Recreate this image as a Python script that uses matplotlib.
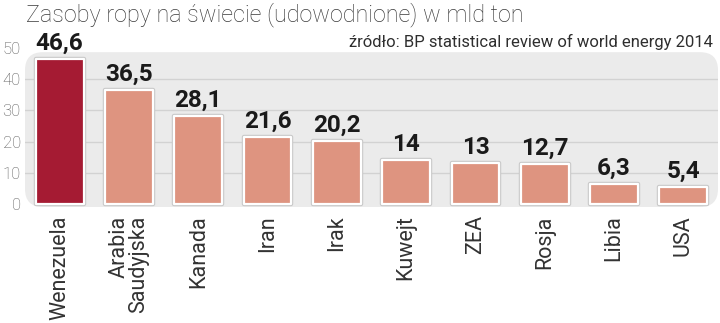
import matplotlib
matplotlib.use('Agg')
import matplotlib.pyplot as plt
from matplotlib.patches import FancyBboxPatch
import matplotlib.patheffects as pe

countries = ['Wenezuela', 'Arabia\nSaudyjska', 'Kanada', 'Iran', 'Irak',
             'Kuwejt', 'ZEA', 'Rosja', 'Libia', 'USA']
reserves = [46.6, 36.5, 28.1, 21.6, 20.2, 14, 13, 12.7, 6.3, 5.4]
value_labels = ['46,6', '36,5', '28,1', '21,6', '20,2', '14', '13', '12,7', '6,3', '5,4']
yticks = [0, 10, 20, 30, 40, 50]

title = 'Zasoby ropy na świecie (udowodnione) w mld ton'
source = 'źródło: BP statistical review of world energy 2014'

dark = '#A51B33'
light = '#DE9480'
colors = [dark] + [light] * (len(reserves) - 1)

W, H = 7.2, 3.23
fig = plt.figure(figsize=(W, H), dpi=100)
ax_l, ax_b, ax_w, ax_h = 25 / 720, (323 - 207) / 323, 693 / 720, 162 / 323
ax = fig.add_axes([ax_l, ax_b, ax_w, ax_h])
ax.set_xlim(-0.5, len(reserves) - 0.5)
ax.set_ylim(-1, 51)
ax.patch.set_visible(False)
for s in ax.spines.values():
    s.set_visible(False)

# gray rounded panel behind the bars
panel_top = (48.7 + 1) / 52
px_w, px_h = ax_w * 720, ax_h * 323
panel = FancyBboxPatch((0, 0), 1, panel_top, transform=ax.transAxes,
                       boxstyle='round,pad=0,rounding_size=%f' % (18 / px_w),
                       mutation_aspect=px_w / px_h,
                       facecolor='#EBEBEB', edgecolor='none', zorder=0)
ax.add_patch(panel)

for t in yticks[1:-1]:
    ax.axhline(t, color='#D2D2D2', lw=1, zorder=0.5)

x = range(len(reserves))
bars = ax.bar(x, reserves, width=0.69, color=colors, edgecolor='white',
              linewidth=1.6, zorder=2)
for b in bars:
    b.set_joinstyle('round')
    b.set_path_effects([pe.Stroke(linewidth=3.2, foreground='#C9C9C9', joinstyle='round'),
                        pe.Normal()])

for xi, v, lab in zip(x, reserves, value_labels):
    ax.annotate(lab, (xi, v), xytext=(0, 3), textcoords='offset points',
                ha='center', va='bottom', fontsize=17.5, fontweight='bold',
                family=['Roboto', 'DejaVu Sans'], color='#1a1a1a',
                annotation_clip=False)

ax.set_yticks(yticks)
ax.set_yticklabels([str(t) for t in yticks], fontsize=12, color='#555555',
                   family=['Roboto', 'DejaVu Sans'], fontweight='light')
ax.set_xticks(list(x))
ax.set_xticklabels(countries, rotation=90, ha='center', va='top',
                   multialignment='right', fontsize=15.5, color='#333333',
                   family=['Roboto', 'DejaVu Sans'], linespacing=0.95)
ax.tick_params(axis='both', length=0)
ax.tick_params(axis='x', pad=6)
ax.tick_params(axis='y', pad=3)

fig.text(26 / 720, 1 - 21 / 323, title, ha='left', va='baseline', fontsize=16.8,
         color='#3a3a3a', family=['Roboto', 'DejaVu Sans'], fontweight='light')
fig.text(713 / 720, 1 - 47 / 323, source, ha='right', va='baseline', fontsize=12,
         color='#2e2e2e', family=['Roboto', 'DejaVu Sans'])

fig.savefig('out.png', dpi=100)
